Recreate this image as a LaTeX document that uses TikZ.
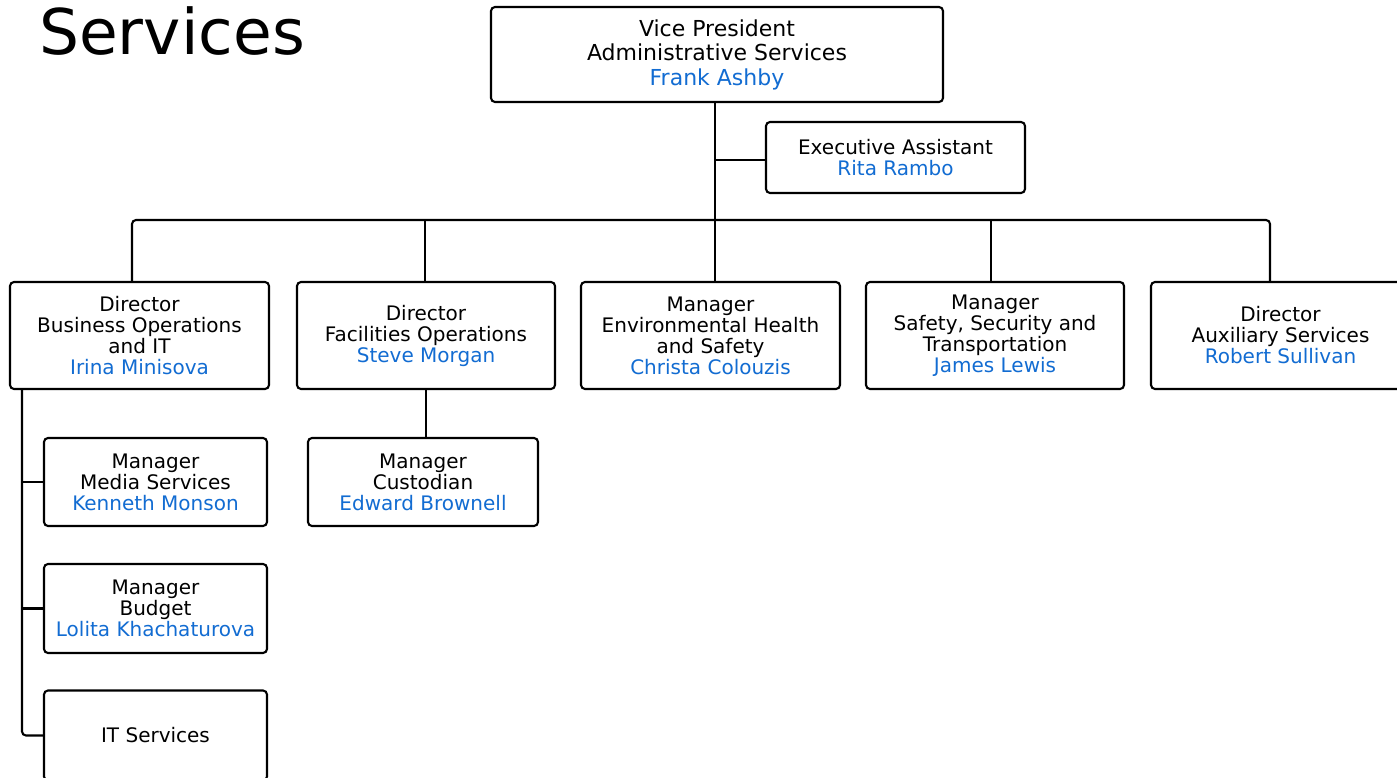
\documentclass[tikz,border=0pt]{standalone}
\usepackage{fontspec}
\setmainfont{DejaVu Sans}
\usetikzlibrary{calc}
\definecolor{namecol}{RGB}{18,108,210}
\tikzset{
  unit/.style={draw=black, line width=2.1pt, rounded corners=4pt, fill=white,
    align=center, inner sep=0pt, font=\fontsize{20}{21}\selectfont},
  link/.style={line width=2.1pt, draw=black},
}
\newcommand{\who}[1]{\textcolor{namecol}{#1}}
\begin{document}
\begin{tikzpicture}[x=1pt, y=-1pt]
  \clip (0,0) rectangle (1397,778);
  \fill[white] (0,0) rectangle (1397,778);

  % title
  \node[anchor=base west, inner sep=0pt, font=\fontsize{63}{63}\selectfont] (title) at (39,55) {Services};

  % top level
  \node[unit, minimum width=452pt, minimum height=95pt, font=\fontsize{22}{24.5}\selectfont] (vp) at (717,54.5)
    {Vice President\\Administrative Services\\\who{Frank Ashby}};
  \node[unit, minimum width=259pt, minimum height=71pt] (ea) at (895.5,157.5)
    {Executive Assistant\\\who{Rita Rambo}};

  % second level
  \node[unit, minimum width=259pt, minimum height=107pt] (biz) at (139.5,335.5)
    {Director\\Business Operations\\and IT\\\who{Irina Minisova}};
  \node[unit, minimum width=258pt, minimum height=107pt] (fac) at (426,335.5)
    {Director\\Facilities Operations\\\who{Steve Morgan}};
  \node[unit, minimum width=259pt, minimum height=107pt] (env) at (710.5,335.5)
    {Manager\\Environmental Health\\and Safety\\\who{Christa Colouzis}};
  \node[unit, minimum width=258pt, minimum height=107pt] (saf) at (995,335.5)
    {Manager\\Safety, Security and\\Transportation\\\who{James Lewis}};
  \node[unit, minimum width=259pt, minimum height=107pt] (aux) at (1280.5,335.5)
    {Director\\Auxiliary Services\\\who{Robert Sullivan}};

  % third level
  \node[unit, minimum width=223pt, minimum height=88pt] (media) at (155.5,482)
    {Manager\\Media Services\\\who{Kenneth Monson}};
  \node[unit, minimum width=223pt, minimum height=89pt] (budget) at (155.5,608.5)
    {Manager\\Budget\\\who{Lolita Khachaturova}};
  \node[unit, minimum width=223pt, minimum height=90pt] (its) at (155.5,735.5)
    {IT Services};
  \node[unit, minimum width=230pt, minimum height=88pt] (cust) at (423,482)
    {Manager\\Custodian\\\who{Edward Brownell}};

  % connector anchor points
  \coordinate (bus) at (715,220);
  \coordinate (bizTop) at ([xshift=-7.5pt]biz.north);
  \coordinate (facTop) at ([xshift=-1pt]fac.north);
  \coordinate (envTop) at ([xshift=4.5pt]env.north);
  \coordinate (safTop) at ([xshift=-4pt]saf.north);
  \coordinate (auxTop) at ([xshift=-10.5pt]aux.north);
  \coordinate (spine) at ([xshift=-117.5pt]biz.south);
  \coordinate (eaJoin) at ([yshift=-2.5pt]ea.west -| bus);

  % connectors
  \draw[link] ([xshift=-2pt]vp.south) -- (envTop);
  \draw[link] (eaJoin) -- (eaJoin -| ea.west);
  \draw[link, rounded corners=4pt] (bizTop) -- (bizTop |- bus) -- (auxTop |- bus) -- (auxTop);
  \draw[link] (facTop) -- (facTop |- bus);
  \draw[link] (safTop) -- (safTop |- bus);
  \draw[link] (fac.south) -- (fac.south |- cust.north);
  \draw[link, rounded corners=4pt] (spine) -- (spine |- its.west) -- (its.west);
  \draw[link] (spine |- media.west) -- (media.west);
  \draw[link] (spine |- budget.west) -- (budget.west);
\end{tikzpicture}
\end{document}
